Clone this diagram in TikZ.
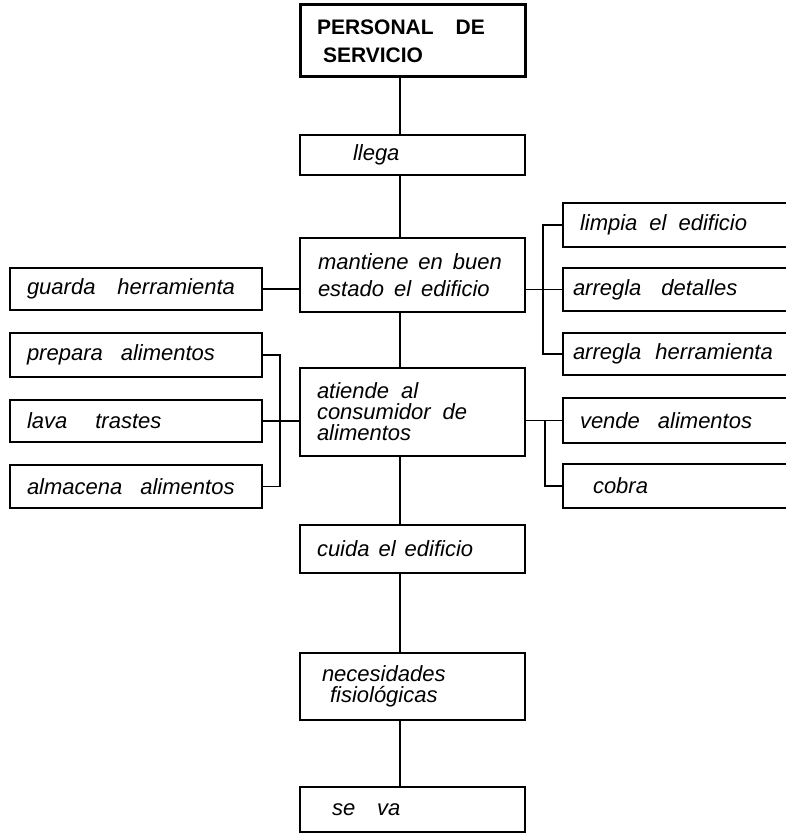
\documentclass[tikz,border=0pt]{standalone}
\usepackage{fontspec}
\setmainfont{Liberation Sans}
\newcommand\wordgap[1]{\spaceskip=#1\relax}
\begin{document}
\begin{tikzpicture}[x=1pt,y=-1pt,
  box/.style={draw, line width=1.3pt, font=\fontsize{22}{24}\selectfont\itshape, align=left, inner ysep=0pt},
  thickbox/.style={box, line width=3pt},
  wsp/.style={execute at begin node={\wordgap{#1}}},
  conn/.style={line width=1.3pt}]
\useasboundingbox (0,0) rectangle (785,834);
% centre column
\node[thickbox, minimum height=72pt, text width=191pt, inner xsep=17pt, font=\fontsize{21}{28}\selectfont\bfseries] (top) at (412.5,41) {PERSONAL\hspace{22pt}DE\\\hspace*{6pt}SERVICIO};
\node[box, minimum height=40pt, text width=119pt, inner xsep=53pt] (llega) at (412.5,155) {llega};
\node[box, wsp=10pt, minimum height=74pt, text width=189pt, inner xsep=18pt, font=\fontsize{22}{27}\selectfont\itshape] (mant) at (412.5,275) {mantiene en buen\\estado el edificio};
\node[box, wsp=12pt, minimum height=88pt, text width=191pt, inner xsep=17pt, font=\fontsize{22}{21}\selectfont\itshape] (atiende) at (412.5,412) {atiende al\\consumidor de\\alimentos};
\node[box, wsp=9pt, minimum height=48pt, text width=191pt, inner xsep=17pt] (cuida) at (412.5,549) {cuida el edificio};
\node[box, minimum height=67pt, text width=181pt, inner xsep=22pt, font=\fontsize{22}{21}\selectfont\itshape] (neces) at (412.5,686.5) {necesidades\\\hspace*{8pt}fisiológicas};
\node[box, wsp=22pt, minimum height=45pt, text width=161pt, inner xsep=32pt] (seva) at (412.5,809.5) {se va};
% left column
\node[box, wsp=22pt, minimum height=42pt, text width=218pt, inner xsep=17pt] (guarda) at (136,289) {guarda herramienta};
\node[box, wsp=18pt, minimum height=44pt, text width=218pt, inner xsep=17pt] (prepara) at (136,355) {prepara alimentos};
\node[box, wsp=28pt, minimum height=42pt, text width=218pt, inner xsep=17pt] (lava) at (136,421) {lava trastes};
\node[box, wsp=18pt, minimum height=43pt, text width=218pt, inner xsep=17pt] (almacena) at (136,486.5) {almacena alimentos};
% right column
\node[box, wsp=12pt, minimum height=44pt, text width=198pt, inner xsep=17pt] (limpia) at (679,225) {limpia el edificio};
\node[box, wsp=20pt, minimum height=43pt, text width=212pt, inner xsep=10pt] (detalles) at (679,289.5) {arregla detalles};
\node[box, wsp=14pt, minimum height=42pt, text width=212pt, inner xsep=10pt] (herr) at (679,354) {arregla herramienta};
\node[box, wsp=18pt, minimum height=45pt, text width=198pt, inner xsep=17pt] (vende) at (679,420.5) {vende alimentos};
\node[box, minimum height=44pt, text width=172pt, inner xsep=30pt] (cobra) at (679,486) {cobra};
% connectors
\coordinate (tr) at (400,0);
\coordinate (jl) at (280,0);
\coordinate (jra) at (543,0);
\coordinate (jrb) at (545,0);
\draw[conn] (top.south -| tr) -- (llega.north -| tr);
\draw[conn] (llega.south -| tr) -- (mant.north -| tr);
\draw[conn] (mant.south -| tr) -- (atiende.north -| tr);
\draw[conn] (atiende.south -| tr) -- (cuida.north -| tr);
\draw[conn] (cuida.south -| tr) -- (neces.north -| tr);
\draw[conn] (neces.south -| tr) -- (seva.north -| tr);
\draw[conn] (guarda.east) -- (guarda.east -| mant.west);
\draw[conn] (prepara.east) -- (prepara.east -| jl) -- (almacena.east -| jl) -- (almacena.east);
\draw[conn] (lava.east) -- (lava.east -| atiende.west);
\draw[conn] (mant.east |- detalles.west) -- (detalles.west);
\draw[conn] (limpia.west) -- (limpia.west -| jra) -- (herr.west -| jra) -- (herr.west);
\draw[conn] (atiende.east |- vende.west) -- (vende.west);
\draw[conn] (vende.west -| jrb) -- (cobra.west -| jrb) -- (cobra.west);
\end{tikzpicture}
\end{document}
